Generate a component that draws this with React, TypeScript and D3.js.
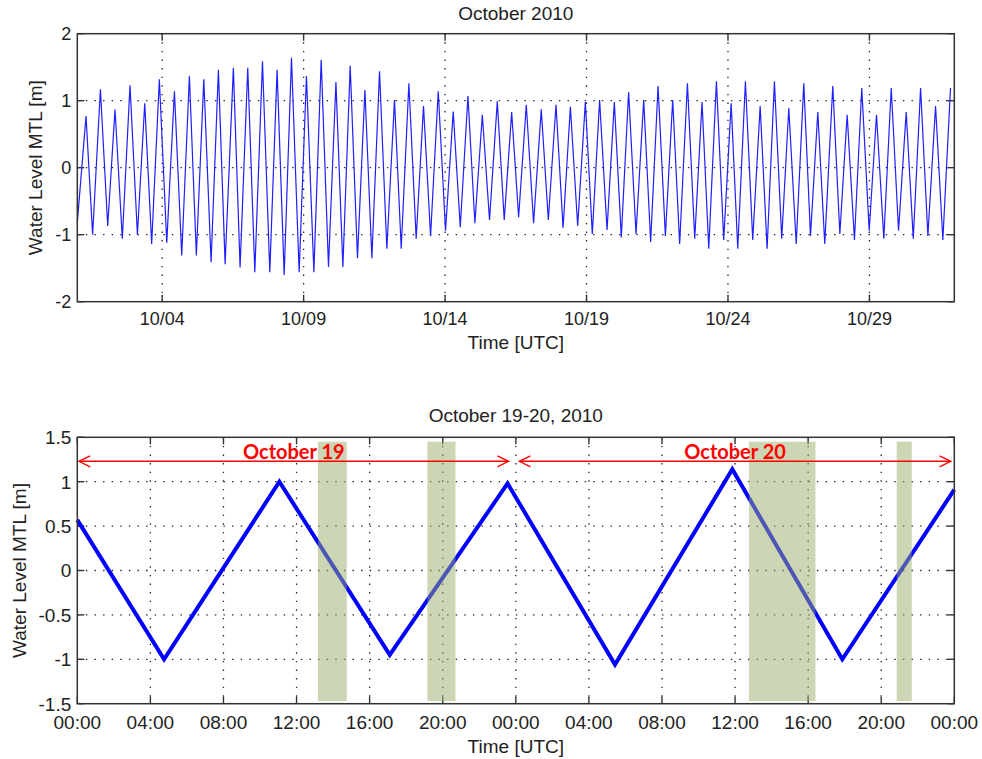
import React from "react";
import * as d3 from "d3";

// Monthly record: high/low water levels, hours after 2010-10-01 00:00 UTC
const monthHours = [
  0, 7.4, 13.0, 19.6, 25.8, 32.0, 38.2, 44.7, 51.0, 57.2, 63.1, 69.6, 75.9, 82.4, 88.6, 95.1,
  101.0, 107.3, 113.5, 119.7, 125.4, 132.4, 138.1, 144.6, 150.6, 157.1, 163.3, 169.5, 175.5,
  181.7, 188.2, 194.4, 200.7, 206.9, 213.1, 219.4, 225.3, 231.5, 237.7, 244.0, 249.9, 256.4,
  262.6, 269.1, 274.8, 281.3, 287.5, 293.7, 299.7, 306.2, 312.4, 318.9, 324.9, 331.4, 337.3,
  343.6, 349.7, 356.3, 362.2, 368.5, 374.4, 380.9, 387.1, 393.6, 399.6, 406.1, 412.1, 418.3,
  424.5, 431.0, 436.9, 443.1, 449.4, 455.6, 461.5, 467.7, 474.0, 480.5, 486.4, 492.7, 498.9,
  505.1, 511.0, 517.6, 523.8, 530.0, 535.7, 542.2, 548.4, 554.7, 560.3, 566.8, 573.0, 579.3,
  585.2, 591.4, 597.6, 603.6, 609.9, 616.3, 622.0, 628.2, 634.1, 640.9, 646.9, 653.1, 659.3,
  665.5, 671.8, 678.0, 684.2, 690.5, 696.7, 703.2, 709.2, 715.4, 721.6, 728.1, 734.3, 740.8,
];
const monthLevels = [
  -0.82, 0.77, -1.0, 1.17, -0.87, 0.87, -1.06, 1.23, -1.0, 0.96, -1.14, 1.32, -1.12, 1.14, -1.31,
  1.37, -1.31, 1.32, -1.41, 1.46, -1.44, 1.49, -1.49, 1.49, -1.56, 1.59, -1.56, 1.46, -1.6, 1.64,
  -1.56, 1.37, -1.56, 1.61, -1.48, 1.28, -1.48, 1.52, -1.35, 1.16, -1.35, 1.44, -1.21, 1.01,
  -1.21, 1.26, -1.06, 0.92, -1.02, 1.14, -0.94, 0.84, -0.89, 1.07, -0.83, 0.79, -0.78, 0.99,
  -0.78, 0.83, -0.74, 0.94, -0.83, 0.87, -0.78, 0.94, -0.9, 0.91, -0.87, 0.98, -0.99, 1.01,
  -0.93, 0.98, -1.04, 1.13, -0.99, 1.01, -1.11, 1.22, -1.02, 1.01, -1.14, 1.26, -1.06, 0.98,
  -1.21, 1.29, -1.08, 0.96, -1.21, 1.29, -1.08, 0.92, -1.21, 1.29, -1.06, 0.89, -1.14, 1.26,
  -1.02, 0.83, -1.14, 1.22, -0.99, 0.79, -1.08, 1.19, -0.94, 0.79, -1.06, 1.19, -0.94, 0.83,
  -1.06, 1.19, -1.02, 0.92, -1.08, 1.19,
];
const monthTickDays = [4, 9, 14, 19, 24, 29];
const monthYTicks = [2, 1, 0, -1, -2];

// Two-day detail: hours after 2010-10-19 00:00 UTC
const dayHours = [0, 4.75, 11.06, 17.1, 23.55, 29.43, 35.85, 41.87, 48];
const dayLevels = [0.57, -1.0, 1.0, -0.95, 0.98, -1.06, 1.14, -1.0, 0.91];
const dayYTicks = [1.5, 1, 0.5, 0, -0.5, -1, -1.5];
const dayTickHours = [0, 4, 8, 12, 16, 20, 24, 28, 32, 36, 40, 44, 48];
// Shaded windows [start hour, end hour]
const windowStarts = [13.17, 19.16, 36.76, 44.85];
const windowEnds = [14.75, 20.7, 40.4, 45.67];
const windowTop = 1.45;
const windowBottom = -1.47;
// Day spans marked with arrows
const spanLabels = ["October 19", "October 20"];
const spanStarts = [0.1, 24.2];
const spanEnds = [23.6, 47.8];
const spanLevel = 1.23;

const HOUR = 3600 * 1000;
const monthStart = Date.UTC(2010, 9, 1);
const dayStart = Date.UTC(2010, 9, 19);

const FONT = "'Liberation Sans', Arial, sans-serif";
const AXIS = "#333";
const GRID_DASH = "1.4 7.2";

type Box = { left: number; right: number; top: number; bottom: number };

const topBox: Box = { left: 77.3, right: 954.3, top: 33.7, bottom: 301.7 };
const botBox: Box = { left: 77.3, right: 954.3, top: 437.3, bottom: 703.7 };

function Frame({ box, xs, ys, xLabels, yLabels, fontSize, xLabelY }: {
  box: Box; xs: number[]; ys: number[]; xLabels: string[]; yLabels: string[]; fontSize: number; xLabelY: number;
}) {
  const tick = 7;
  return (
    <g>
      {/* dotted grid */}
      {xs.map((x, i) =>
        x > box.left + 1 && x < box.right - 1 ? (
          <line key={"gx" + i} x1={x} x2={x} y1={box.top} y2={box.bottom} stroke="#222" strokeWidth={1.3} strokeDasharray={GRID_DASH} />
        ) : null
      )}
      {ys.map((y, i) =>
        y > box.top + 1 && y < box.bottom - 1 ? (
          <line key={"gy" + i} x1={box.left} x2={box.right} y1={y} y2={y} stroke="#222" strokeWidth={1.3} strokeDasharray={GRID_DASH} />
        ) : null
      )}
      {/* inward ticks on all four sides */}
      {xs.map((x, i) => (
        <g key={"tx" + i}>
          <line x1={x} x2={x} y1={box.bottom} y2={box.bottom - tick} stroke={AXIS} strokeWidth={1.4} />
          <line x1={x} x2={x} y1={box.top} y2={box.top + tick} stroke={AXIS} strokeWidth={1.4} />
          <text x={x} y={xLabelY} textAnchor="middle" fontFamily={FONT} fontSize={fontSize} fill="#222">{xLabels[i]}</text>
        </g>
      ))}
      {ys.map((y, i) => (
        <g key={"ty" + i}>
          <line x1={box.left} x2={box.left + tick} y1={y} y2={y} stroke={AXIS} strokeWidth={1.4} />
          <line x1={box.right} x2={box.right - tick} y1={y} y2={y} stroke={AXIS} strokeWidth={1.4} />
          <text x={box.left - 6} y={y} dy="0.36em" textAnchor="end" fontFamily={FONT} fontSize={fontSize} fill="#222">{yLabels[i]}</text>
        </g>
      ))}
    </g>
  );
}

export default function App() {
  // Monthly panel
  const xTop = d3.scaleUtc().domain([new Date(monthStart), new Date(Date.UTC(2010, 10, 1))]).range([topBox.left, topBox.right]);
  const yTop = d3.scaleLinear().domain([-2, 2]).range([topBox.bottom, topBox.top]);
  const topPts: [Date, number][] = monthHours.map((h, i) => [new Date(monthStart + h * HOUR), monthLevels[i]]);
  const topLine = d3.line<[Date, number]>().x((d) => xTop(d[0])).y((d) => yTop(d[1]))(topPts) || "";
  const topTickDates = monthTickDays.map((d) => new Date(Date.UTC(2010, 9, d)));
  const fmtDay = d3.utcFormat("%m/%d");

  // Two-day panel
  const xBot = d3.scaleUtc().domain([new Date(dayStart), new Date(dayStart + 48 * HOUR)]).range([botBox.left, botBox.right]);
  const yBot = d3.scaleLinear().domain([-1.5, 1.5]).range([botBox.bottom, botBox.top]);
  const botPts: [Date, number][] = dayHours.map((h, i) => [new Date(dayStart + h * HOUR), dayLevels[i]]);
  const botLine = d3.line<[Date, number]>().x((d) => xBot(d[0])).y((d) => yBot(d[1]))(botPts) || "";
  const botTickDates = dayTickHours.map((h) => new Date(dayStart + h * HOUR));
  const fmtHour = d3.utcFormat("%H:%M");
  const hx = (h: number) => xBot(new Date(dayStart + h * HOUR));

  const midTop = (topBox.left + topBox.right) / 2;

  return (
    <svg width={982} height={759} style={{ position: "absolute", left: 0, top: 0, background: "#fff" }}>
      <rect width={982} height={759} fill="#fff" />

      {/* ---- October 2010 ---- */}
      <text x={midTop} y={20} textAnchor="middle" fontFamily={FONT} fontSize={19} fill="#222">October 2010</text>
      <Frame
        box={topBox}
        xs={topTickDates.map((d) => xTop(d))}
        ys={monthYTicks.map((v) => yTop(v))}
        xLabels={topTickDates.map(fmtDay)}
        yLabels={monthYTicks.map(String)}
        fontSize={18}
        xLabelY={324.5}
      />
      <path d={topLine} fill="none" stroke="#1f1fff" strokeWidth={1.2} strokeLinejoin="miter" />
      <rect x={topBox.left} y={topBox.top} width={topBox.right - topBox.left} height={topBox.bottom - topBox.top} fill="none" stroke={AXIS} strokeWidth={1.5} />
      <text x={midTop} y={349} textAnchor="middle" fontFamily={FONT} fontSize={19} fill="#222">Time [UTC]</text>
      <text transform={`translate(35,${(topBox.top + topBox.bottom) / 2}) rotate(-90)`} dy="0.36em" textAnchor="middle" fontFamily={FONT} fontSize={19} fill="#222">Water Level MTL [m]</text>

      {/* ---- October 19-20, 2010 ---- */}
      <text x={midTop} y={422} textAnchor="middle" fontFamily={FONT} fontSize={19} fill="#222">October 19-20, 2010</text>
      <Frame
        box={botBox}
        xs={botTickDates.map((d) => xBot(d))}
        ys={dayYTicks.map((v) => yBot(v))}
        xLabels={botTickDates.map(fmtHour)}
        yLabels={dayYTicks.map(String)}
        fontSize={19}
        xLabelY={728.5}
      />
      <path d={botLine} fill="none" stroke="#0000ff" strokeWidth={4} strokeLinejoin="miter" />
      {windowStarts.map((s, i) => (
        <rect key={"w" + i} x={hx(s)} width={hx(windowEnds[i]) - hx(s)} y={yBot(windowTop)} height={yBot(windowBottom) - yBot(windowTop)} fill="#9aab6a" fillOpacity={0.5} />
      ))}
      {spanStarts.map((s, i) => {
        const x1 = hx(s);
        const x2 = hx(spanEnds[i]);
        const y = yBot(spanLevel);
        const hw = 11;
        const hh = 5.5;
        return (
          <g key={"s" + i} stroke="#ff0000" strokeWidth={1.4} fill="none">
            <line x1={x1} x2={x2} y1={y} y2={y} />
            <polyline points={`${x1 + hw},${y - hh} ${x1},${y} ${x1 + hw},${y + hh}`} />
            <polyline points={`${x2 - hw},${y - hh} ${x2},${y} ${x2 - hw},${y + hh}`} />
            <text x={(x1 + x2) / 2} y={y - 2} stroke="none" fill="#ff0000" textAnchor="middle" fontFamily="Lato, 'Open Sans', sans-serif" fontWeight={700} fontSize={20}>{spanLabels[i]}</text>
          </g>
        );
      })}
      <rect x={botBox.left} y={botBox.top} width={botBox.right - botBox.left} height={botBox.bottom - botBox.top} fill="none" stroke={AXIS} strokeWidth={1.5} />
      <text x={midTop} y={753} textAnchor="middle" fontFamily={FONT} fontSize={19} fill="#222">Time [UTC]</text>
      <text transform={`translate(19,${(botBox.top + botBox.bottom) / 2}) rotate(-90)`} dy="0.36em" textAnchor="middle" fontFamily={FONT} fontSize={19} fill="#222">Water Level MTL [m]</text>
    </svg>
  );
}
